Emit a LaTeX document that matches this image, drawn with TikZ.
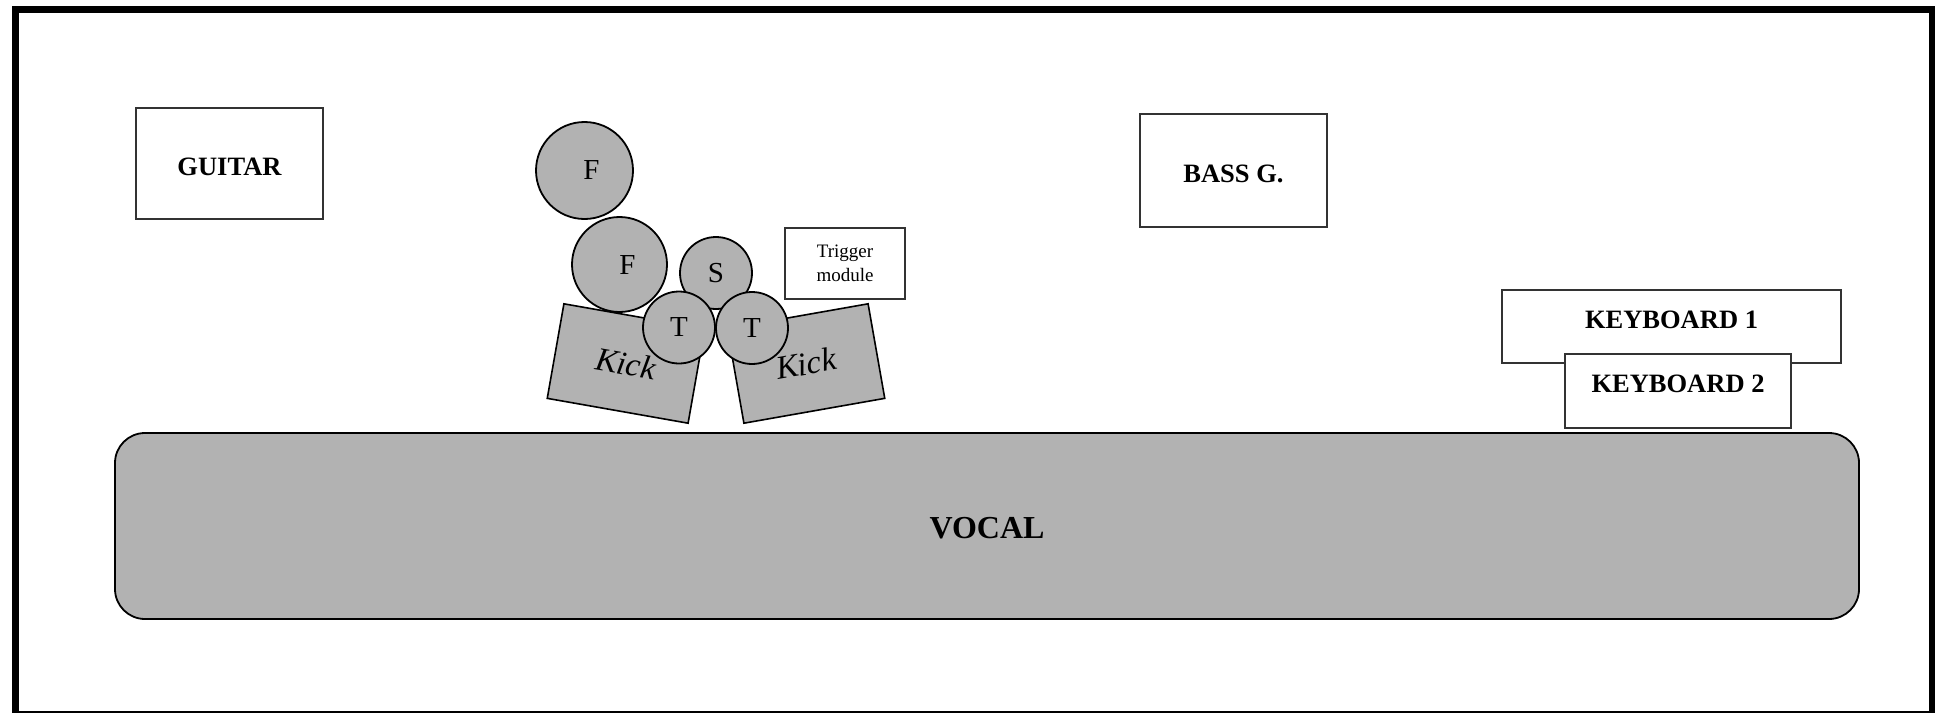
\documentclass[tikz,border=0pt]{standalone}
\usepackage{fontspec}
\setmainfont{Liberation Serif}
\begin{document}
\begin{tikzpicture}[x=1pt,y=-1pt,
  box/.style={draw=black!80,line width=1.4pt,fill=white,rectangle,inner sep=0pt},
  lbl/.style={font=\fontsize{26.5}{31}\selectfont\bfseries,inner sep=0pt},
  drum/.style={draw=black,line width=1.8pt,fill=black!30,circle,inner sep=0pt,font=\fontsize{29}{34}\selectfont},
  kick/.style={draw=black,line width=1.6pt,fill=black!30,rectangle,inner sep=0pt,
    minimum width=143pt,minimum height=96pt,font=\fontsize{33}{38}\selectfont\itshape}]
\useasboundingbox (0,0) rectangle (1935,712);
% outer frame
\draw[line width=7pt] (15.5,9.5) rectangle (1932,714.5);
% vocal riser
\node[draw=black,line width=1.8pt,fill=black!30,rounded corners=30pt,inner sep=0pt,
  minimum width=1744pt,minimum height=186pt] (vocal) at (987,526) {};
\node[font=\fontsize{32}{37}\selectfont\bfseries,inner sep=0pt] (vocalt) at ([yshift=-2pt]vocal.center) {VOCAL};
% guitar, bass
\node[box,minimum width=187pt,minimum height=111pt] (guitar) at (229.5,163.5) {};
\node[lbl] (guitart) at ([yshift=-3.5pt]guitar.center) {GUITAR};
\node[box,minimum width=187pt,minimum height=113pt] (bass) at (1233.5,170.5) {};
\node[lbl] (basst) at ([yshift=-3pt]bass.center) {BASS G.};
% keyboards
\node[box,minimum width=339pt,minimum height=73pt] (kb1) at (1671.5,326.5) {};
\node[lbl] (kb1t) at ([yshift=7pt]kb1.center) {KEYBOARD 1};
\node[box,minimum width=226pt,minimum height=74pt] (kb2) at (1678,391) {};
\node[lbl] (kb2t) at ([yshift=7.5pt]kb2.center) {KEYBOARD 2};
% drums
\node[kick,rotate=-10] (kickl) at (626,363.5) {Kick};
\node[kick,rotate=10] (kickr) at (806,363.5) {Kick};
\node[drum,minimum size=97pt,label={[xshift=7pt,yshift=0pt,font=\fontsize{29}{34}\selectfont]center:F}] (f1) at (584.5,170.5) {};
\node[drum,minimum size=95pt,label={[xshift=8pt,yshift=-1pt,font=\fontsize{29}{34}\selectfont]center:F}] (f2) at (619.5,264.5) {};
\node[drum,minimum size=72pt] (s) at (716,273) {S};
\node[drum,minimum size=72pt] (t1) at (679,327.5) {T};
\node[drum,minimum size=72pt] (t2) at (752,328) {T};
% trigger module
\node[box,minimum width=120pt,minimum height=71pt,align=center,
  font=\fontsize{19}{24}\selectfont] (trig) at (845,263.5) {Trigger\\module};
\end{tikzpicture}
\end{document}
